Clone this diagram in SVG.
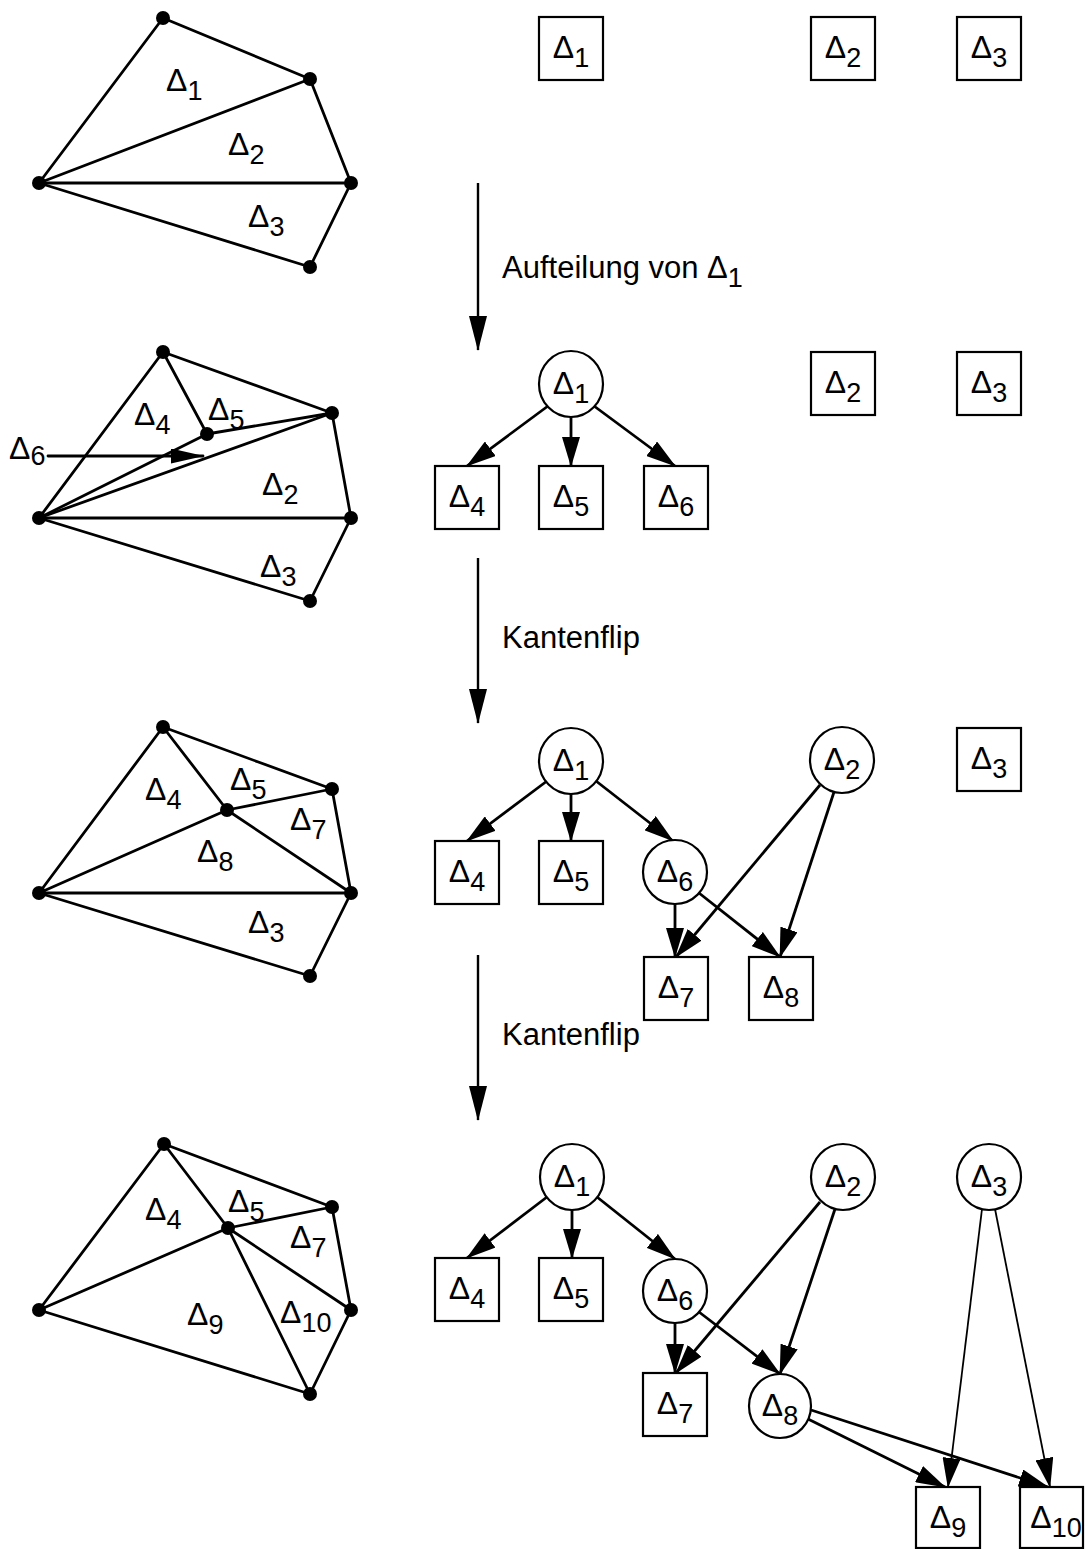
<svg xmlns="http://www.w3.org/2000/svg" width="1092" height="1549" viewBox="0 0 1092 1549">
  <style>
    text { font-family: "Liberation Sans", Arial, Helvetica, sans-serif; font-size: 32px; fill: #000; }
    .cap { font-size: 31px; }
    .sub { font-size: 27px; }
    .mesh line { stroke: #000; stroke-width: 2.8; stroke-linecap: round; }
    .mesh circle { fill: #000; }
    .node rect, .node ellipse { fill: #fff; stroke: #000; stroke-width: 2.2; }
    .edge { stroke: #000; stroke-width: 2.8; fill: none; marker-end: url(#head); }
    .edge.thin { stroke-width: 1.8; }
    .step { stroke: #000; stroke-width: 2.4; fill: none; marker-end: url(#stepHead); }
    .ptr { stroke: #000; stroke-width: 2.2; fill: none; marker-end: url(#ptrHead); }
  </style>
  <defs>
    <marker id="head" markerUnits="userSpaceOnUse" markerWidth="30" markerHeight="18" refX="29" refY="9" orient="auto">
      <path d="M0,0 L30,9 L0,18 Z" fill="#000"/>
    </marker>
    <marker id="stepHead" markerUnits="userSpaceOnUse" markerWidth="35" markerHeight="18" refX="34" refY="9" orient="auto">
      <path d="M0,0 L35,9 L0,18 Z" fill="#000"/>
    </marker>
    <marker id="ptrHead" markerUnits="userSpaceOnUse" markerWidth="33" markerHeight="15" refX="32" refY="7.5" orient="auto">
      <path d="M0,0 L33,7.5 L0,15 Z" fill="#000"/>
    </marker>
  </defs>

  <!-- ===== Triangulation 1 ===== -->
  <g id="mesh1" class="mesh">
    <line x1="163" y1="18" x2="39" y2="183"/>
    <line x1="163" y1="18" x2="310" y2="79"/>
    <line x1="39" y1="183" x2="310" y2="79"/>
    <line x1="310" y1="79" x2="351" y2="183"/>
    <line x1="39" y1="183" x2="351" y2="183"/>
    <line x1="39" y1="183" x2="310" y2="267"/>
    <line x1="351" y1="183" x2="310" y2="267"/>
    <circle cx="163" cy="18" r="7"/>
    <circle cx="310" cy="79" r="7"/>
    <circle cx="39" cy="183" r="7"/>
    <circle cx="351" cy="183" r="7"/>
    <circle cx="310" cy="267" r="7"/>
    <text x="166" y="91">Δ<tspan class="sub" dy="9">1</tspan></text>
    <text x="228" y="155">Δ<tspan class="sub" dy="9">2</tspan></text>
    <text x="248" y="227">Δ<tspan class="sub" dy="9">3</tspan></text>
  </g>

  <!-- ===== Triangulation 2 (after splitting Δ1) ===== -->
  <g id="mesh2" class="mesh">
    <line x1="163" y1="352" x2="39" y2="518"/>
    <line x1="163" y1="352" x2="332" y2="413"/>
    <line x1="163" y1="352" x2="207" y2="434"/>
    <line x1="207" y1="434" x2="332" y2="413"/>
    <line x1="207" y1="434" x2="39" y2="518"/>
    <line x1="39" y1="518" x2="332" y2="413"/>
    <line x1="332" y1="413" x2="351" y2="518"/>
    <line x1="39" y1="518" x2="351" y2="518"/>
    <line x1="39" y1="518" x2="310" y2="601"/>
    <line x1="351" y1="518" x2="310" y2="601"/>
    <circle cx="163" cy="352" r="7"/>
    <circle cx="332" cy="413" r="7"/>
    <circle cx="207" cy="434" r="7"/>
    <circle cx="39" cy="518" r="7"/>
    <circle cx="351" cy="518" r="7"/>
    <circle cx="310" cy="601" r="7"/>
    <text x="134" y="425">Δ<tspan class="sub" dy="9">4</tspan></text>
    <text x="208" y="420">Δ<tspan class="sub" dy="9">5</tspan></text>
    <text x="262" y="495">Δ<tspan class="sub" dy="9">2</tspan></text>
    <text x="260" y="577">Δ<tspan class="sub" dy="9">3</tspan></text>
    <text x="9" y="459">Δ<tspan class="sub" dy="6">6</tspan></text>
    <line class="ptr" x1="48" y1="456" x2="203" y2="456"/>
  </g>

  <!-- ===== Triangulation 3 (first edge flip) ===== -->
  <g id="mesh3" class="mesh">
    <line x1="163" y1="727" x2="39" y2="893"/>
    <line x1="163" y1="727" x2="332" y2="789"/>
    <line x1="163" y1="727" x2="227" y2="810"/>
    <line x1="227" y1="810" x2="351" y2="893"/>
    <line x1="227" y1="810" x2="332" y2="789"/>
    <line x1="227" y1="810" x2="39" y2="893"/>
    <line x1="332" y1="789" x2="351" y2="893"/>
    <line x1="39" y1="893" x2="351" y2="893"/>
    <line x1="39" y1="893" x2="310" y2="976"/>
    <line x1="351" y1="893" x2="310" y2="976"/>
    <circle cx="163" cy="727" r="7"/>
    <circle cx="332" cy="789" r="7"/>
    <circle cx="227" cy="810" r="7"/>
    <circle cx="39" cy="893" r="7"/>
    <circle cx="351" cy="893" r="7"/>
    <circle cx="310" cy="976" r="7"/>
    <text x="145" y="800">Δ<tspan class="sub" dy="9">4</tspan></text>
    <text x="230" y="790">Δ<tspan class="sub" dy="9">5</tspan></text>
    <text x="290" y="830">Δ<tspan class="sub" dy="9">7</tspan></text>
    <text x="197" y="862">Δ<tspan class="sub" dy="9">8</tspan></text>
    <text x="248" y="933">Δ<tspan class="sub" dy="9">3</tspan></text>
  </g>

  <!-- ===== Triangulation 4 (second edge flip) ===== -->
  <g id="mesh4" class="mesh">
    <line x1="164" y1="1144" x2="39" y2="1310"/>
    <line x1="164" y1="1144" x2="332" y2="1207"/>
    <line x1="164" y1="1144" x2="228" y2="1228"/>
    <line x1="228" y1="1228" x2="332" y2="1207"/>
    <line x1="228" y1="1228" x2="39" y2="1310"/>
    <line x1="228" y1="1228" x2="351" y2="1310"/>
    <line x1="228" y1="1228" x2="310" y2="1394"/>
    <line x1="332" y1="1207" x2="351" y2="1310"/>
    <line x1="39" y1="1310" x2="310" y2="1394"/>
    <line x1="351" y1="1310" x2="310" y2="1394"/>
    <circle cx="164" cy="1144" r="7"/>
    <circle cx="332" cy="1207" r="7"/>
    <circle cx="228" cy="1228" r="7"/>
    <circle cx="39" cy="1310" r="7"/>
    <circle cx="351" cy="1310" r="7"/>
    <circle cx="310" cy="1394" r="7"/>
    <text x="145" y="1220">Δ<tspan class="sub" dy="9">4</tspan></text>
    <text x="228" y="1212">Δ<tspan class="sub" dy="9">5</tspan></text>
    <text x="290" y="1248">Δ<tspan class="sub" dy="9">7</tspan></text>
    <text x="187" y="1325">Δ<tspan class="sub" dy="9">9</tspan></text>
    <text x="280" y="1323">Δ<tspan class="sub" dy="9">10</tspan></text>
  </g>

  <!-- ===== Step arrows between the stages ===== -->
  <g id="steps">
    <line class="step" x1="478" y1="183" x2="478" y2="350"/>
    <text class="cap" x="502" y="278">Aufteilung von Δ<tspan class="sub" dy="9">1</tspan></text>
    <line class="step" x1="478" y1="558" x2="478" y2="723"/>
    <text class="cap" x="502" y="648">Kantenflip</text>
    <line class="step" x1="478" y1="955" x2="478" y2="1120"/>
    <text class="cap" x="502" y="1045">Kantenflip</text>
  </g>

  <!-- ===== Search structure: connectors ===== -->
  <g id="connectors">
    <!-- stage 2 -->
    <line class="edge" x1="548" y1="406" x2="467" y2="466"/>
    <line class="edge" x1="571" y1="416" x2="571" y2="466"/>
    <line class="edge" x1="594" y1="406" x2="675" y2="466"/>
    <!-- stage 3 -->
    <line class="edge" x1="547" y1="781" x2="467" y2="841"/>
    <line class="edge" x1="571" y1="793" x2="571" y2="841"/>
    <line class="edge" x1="596" y1="781" x2="673" y2="841"/>
    <line class="edge" x1="675" y1="904" x2="675" y2="957"/>
    <line class="edge" x1="699" y1="893" x2="780" y2="957"/>
    <line class="edge" x1="820" y1="785" x2="676" y2="957"/>
    <line class="edge" x1="834" y1="792" x2="780" y2="957"/>
    <!-- stage 4 -->
    <line class="edge" x1="547" y1="1197" x2="467" y2="1258"/>
    <line class="edge" x1="572" y1="1209" x2="572" y2="1258"/>
    <line class="edge" x1="597" y1="1197" x2="675" y2="1259"/>
    <line class="edge" x1="675" y1="1323" x2="675" y2="1373"/>
    <line class="edge" x1="699" y1="1312" x2="780" y2="1374"/>
    <line class="edge" x1="820" y1="1202" x2="676" y2="1373"/>
    <line class="edge" x1="835" y1="1209" x2="780" y2="1374"/>
    <line class="edge thin" x1="982" y1="1209" x2="948" y2="1487"/>
    <line class="edge thin" x1="995" y1="1209" x2="1050" y2="1487"/>
    <line class="edge" x1="808" y1="1419" x2="945" y2="1487"/>
    <line class="edge" x1="811" y1="1410" x2="1048" y2="1487"/>
  </g>

  <!-- ===== Stage 1 nodes ===== -->
  <g id="s1-d1" class="node"><rect x="539" y="17" width="64" height="63"/><text x="571" y="58" text-anchor="middle">Δ<tspan class="sub" dy="9">1</tspan></text></g>
  <g id="s1-d2" class="node"><rect x="811" y="17" width="64" height="63"/><text x="843" y="58" text-anchor="middle">Δ<tspan class="sub" dy="9">2</tspan></text></g>
  <g id="s1-d3" class="node"><rect x="957" y="17" width="64" height="63"/><text x="989" y="58" text-anchor="middle">Δ<tspan class="sub" dy="9">3</tspan></text></g>

  <!-- ===== Stage 2 nodes ===== -->
  <g id="s2-d1" class="node"><ellipse cx="571" cy="384" rx="32" ry="33"/><text x="571" y="394" text-anchor="middle">Δ<tspan class="sub" dy="9">1</tspan></text></g>
  <g id="s2-d2" class="node"><rect x="811" y="352" width="64" height="63"/><text x="843" y="393" text-anchor="middle">Δ<tspan class="sub" dy="9">2</tspan></text></g>
  <g id="s2-d3" class="node"><rect x="957" y="352" width="64" height="63"/><text x="989" y="393" text-anchor="middle">Δ<tspan class="sub" dy="9">3</tspan></text></g>
  <g id="s2-d4" class="node"><rect x="435" y="466" width="64" height="63"/><text x="467" y="507" text-anchor="middle">Δ<tspan class="sub" dy="9">4</tspan></text></g>
  <g id="s2-d5" class="node"><rect x="539" y="466" width="64" height="63"/><text x="571" y="507" text-anchor="middle">Δ<tspan class="sub" dy="9">5</tspan></text></g>
  <g id="s2-d6" class="node"><rect x="644" y="466" width="64" height="63"/><text x="676" y="507" text-anchor="middle">Δ<tspan class="sub" dy="9">6</tspan></text></g>

  <!-- ===== Stage 3 nodes ===== -->
  <g id="s3-d1" class="node"><ellipse cx="571" cy="761" rx="32" ry="33"/><text x="571" y="771" text-anchor="middle">Δ<tspan class="sub" dy="9">1</tspan></text></g>
  <g id="s3-d2" class="node"><ellipse cx="842" cy="760" rx="32" ry="33"/><text x="842" y="770" text-anchor="middle">Δ<tspan class="sub" dy="9">2</tspan></text></g>
  <g id="s3-d3" class="node"><rect x="957" y="728" width="64" height="63"/><text x="989" y="769" text-anchor="middle">Δ<tspan class="sub" dy="9">3</tspan></text></g>
  <g id="s3-d4" class="node"><rect x="435" y="841" width="64" height="63"/><text x="467" y="882" text-anchor="middle">Δ<tspan class="sub" dy="9">4</tspan></text></g>
  <g id="s3-d5" class="node"><rect x="539" y="841" width="64" height="63"/><text x="571" y="882" text-anchor="middle">Δ<tspan class="sub" dy="9">5</tspan></text></g>
  <g id="s3-d6" class="node"><ellipse cx="675" cy="872" rx="32" ry="32"/><text x="675" y="882" text-anchor="middle">Δ<tspan class="sub" dy="9">6</tspan></text></g>
  <g id="s3-d7" class="node"><rect x="644" y="957" width="64" height="63"/><text x="676" y="998" text-anchor="middle">Δ<tspan class="sub" dy="9">7</tspan></text></g>
  <g id="s3-d8" class="node"><rect x="749" y="957" width="64" height="63"/><text x="781" y="998" text-anchor="middle">Δ<tspan class="sub" dy="9">8</tspan></text></g>

  <!-- ===== Stage 4 nodes ===== -->
  <g id="s4-d1" class="node"><ellipse cx="572" cy="1177" rx="32" ry="33"/><text x="572" y="1187" text-anchor="middle">Δ<tspan class="sub" dy="9">1</tspan></text></g>
  <g id="s4-d2" class="node"><ellipse cx="843" cy="1177" rx="32" ry="33"/><text x="843" y="1187" text-anchor="middle">Δ<tspan class="sub" dy="9">2</tspan></text></g>
  <g id="s4-d3" class="node"><ellipse cx="989" cy="1177" rx="32" ry="33"/><text x="989" y="1187" text-anchor="middle">Δ<tspan class="sub" dy="9">3</tspan></text></g>
  <g id="s4-d4" class="node"><rect x="435" y="1258" width="64" height="63"/><text x="467" y="1299" text-anchor="middle">Δ<tspan class="sub" dy="9">4</tspan></text></g>
  <g id="s4-d5" class="node"><rect x="539" y="1258" width="64" height="63"/><text x="571" y="1299" text-anchor="middle">Δ<tspan class="sub" dy="9">5</tspan></text></g>
  <g id="s4-d6" class="node"><ellipse cx="675" cy="1291" rx="32" ry="32"/><text x="675" y="1301" text-anchor="middle">Δ<tspan class="sub" dy="9">6</tspan></text></g>
  <g id="s4-d7" class="node"><rect x="643" y="1373" width="64" height="63"/><text x="675" y="1414" text-anchor="middle">Δ<tspan class="sub" dy="9">7</tspan></text></g>
  <g id="s4-d8" class="node"><ellipse cx="780" cy="1406" rx="31" ry="32"/><text x="780" y="1416" text-anchor="middle">Δ<tspan class="sub" dy="9">8</tspan></text></g>
  <g id="s4-d9" class="node"><rect x="916" y="1487" width="64" height="61"/><text x="948" y="1528" text-anchor="middle">Δ<tspan class="sub" dy="9">9</tspan></text></g>
  <g id="s4-d10" class="node"><rect x="1020" y="1487" width="63" height="61"/><text x="1056" y="1528" text-anchor="middle">Δ<tspan class="sub" dy="9">10</tspan></text></g>
</svg>
